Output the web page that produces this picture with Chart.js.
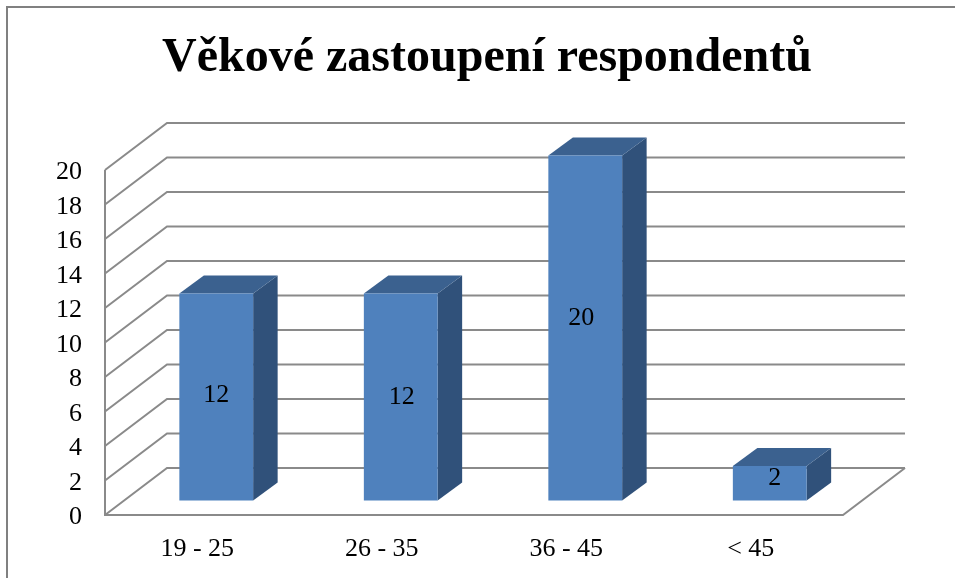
<!DOCTYPE html>
<html>
<head>
<meta charset="utf-8">
<style>
html,body{margin:0;padding:0;background:#fff;overflow:hidden}
#wrap{position:relative;width:955px;height:578px}
canvas{display:block;filter:blur(0.6px)}
</style>
<script src="https://cdn.jsdelivr.net/npm/chart.js@4/dist/chart.umd.min.js"></script>
</head>
<body>
<div id="wrap"><canvas id="c" width="955" height="578"></canvas></div>
<script>
const titleText = 'Věkové zastoupení respondentů';
const categories = ['19 - 25', '26 - 35', '36 - 45', '< 45'];
const respondents = [12, 12, 20, 2];
const yMax = 20;
const yStep = 2;

const FRONT = '#4f81bd', SIDE = '#30517a', TOP = '#3b618f';
const GRID = '#8a8a8a', FRAME = '#808080';
const SERIF = '"Liberation Serif", "Times New Roman", serif';
// projection offsets of the pseudo-3D look
const WALL = {x: 62, y: -47};
const BAR_SHIFT = {x: 19, y: -14.5};
const BAR_DEPTH = {x: 24.5, y: -18};
// hand placement of value labels relative to bar centre
const LABEL_NUDGE = [[0, -2], [1, 0], [-4, -10], [5, -5]];
const Y_TICK_SHIFT = 2.5;

function poly(ctx, pts, fill) {
  ctx.beginPath();
  pts.forEach((p, i) => i ? ctx.lineTo(p[0], p[1]) : ctx.moveTo(p[0], p[1]));
  ctx.closePath();
  ctx.fillStyle = fill;
  ctx.fill();
}

const pseudo3d = {
  id: 'pseudo3d',
  beforeDraw(chart) {
    const {ctx, width, height} = chart;
    ctx.save();
    ctx.fillStyle = '#fff';
    ctx.fillRect(0, 0, width, height);
    // outer frame
    ctx.strokeStyle = FRAME;
    ctx.lineWidth = 2;
    ctx.beginPath();
    ctx.moveTo(7, height);
    ctx.lineTo(7, 7);
    ctx.lineTo(width, 7);
    ctx.stroke();
    ctx.restore();
  },
  beforeDatasetsDraw(chart) {
    const {ctx, chartArea: a, scales: {y}} = chart;
    ctx.save();
    ctx.strokeStyle = GRID;
    ctx.lineWidth = 2;
    y.ticks.forEach(t => {
      const py = y.getPixelForValue(t.value);
      ctx.beginPath();
      ctx.moveTo(a.left, py);
      ctx.lineTo(a.left + WALL.x, py + WALL.y);
      ctx.lineTo(a.right + WALL.x, py + WALL.y);
      ctx.stroke();
    });
    const y0 = y.getPixelForValue(0), yT = y.getPixelForValue(yMax);
    ctx.beginPath();
    ctx.moveTo(a.left, yT);
    ctx.lineTo(a.left, y0);
    ctx.lineTo(a.right, y0);
    ctx.lineTo(a.right + WALL.x, y0 + WALL.y);
    ctx.stroke();
    ctx.restore();
  },
  beforeDatasetDraw(chart, args) {
    const {ctx} = chart;
    const meta = chart.getDatasetMeta(args.index);
    ctx.save();
    ctx.translate(BAR_SHIFT.x, BAR_SHIFT.y);
    meta.data.forEach(bar => {
      const {x, y, base, width} = bar.getProps(['x', 'y', 'base', 'width'], true);
      const l = x - width / 2, r = x + width / 2;
      const d = BAR_DEPTH;
      poly(ctx, [[r, y], [r + d.x, y + d.y], [r + d.x, base + d.y], [r, base]], SIDE);
      poly(ctx, [[l, y], [l + d.x, y + d.y], [r + d.x, y + d.y], [r, y]], TOP);
    });
  },
  afterDatasetDraw(chart, args) {
    const {ctx} = chart;
    const meta = chart.getDatasetMeta(args.index);
    ctx.restore();
    ctx.save();
    ctx.fillStyle = '#000';
    ctx.font = '26px ' + SERIF;
    ctx.textAlign = 'center';
    ctx.textBaseline = 'middle';
    meta.data.forEach((bar, i) => {
      const {x, y, base} = bar.getProps(['x', 'y', 'base'], true);
      ctx.fillText(String(respondents[i]),
        x + BAR_SHIFT.x + LABEL_NUDGE[i][0],
        (y + base) / 2 + BAR_SHIFT.y + LABEL_NUDGE[i][1]);
    });
    ctx.restore();
  }
};

new Chart(document.getElementById('c'), {
  type: 'bar',
  plugins: [pseudo3d],
  data: {
    labels: categories,
    datasets: [{
      data: respondents,
      backgroundColor: FRONT,
      borderWidth: 0,
      barPercentage: 0.4,
      categoryPercentage: 1,
      clip: false
    }]
  },
  options: {
    responsive: false,
    animation: false,
    events: [],
    layout: {padding: {left: 19, right: 0, top: 0, bottom: 0}},
    plugins: {
      legend: {display: false},
      tooltip: {enabled: false},
      title: {
        display: true,
        text: titleText,
        color: '#000',
        font: {family: SERIF, size: 48, weight: 'bold', lineHeight: 1},
        padding: {top: 35, bottom: 87}
      }
    },
    scales: {
      x: {
        grid: {display: false},
        border: {display: false},
        afterFit(s) { s.height = 63; },
        ticks: {
          color: '#000',
          font: {family: SERIF, size: 26},
          padding: 11,
          maxRotation: 0
        }
      },
      y: {
        min: 0,
        max: yMax,
        grid: {display: false, drawTicks: false},
        border: {display: false},
        afterFit(s) { s.width = 86; },
        afterUpdate(s) {
          if (s._shifted) return;
          s._shifted = true;
          const drawLabels = s.drawLabels;
          s.drawLabels = function (area) {
            this.ctx.save();
            this.ctx.translate(0, Y_TICK_SHIFT);
            drawLabels.call(this, area);
            this.ctx.restore();
          };
        },
        ticks: {
          stepSize: yStep,
          color: '#000',
          font: {family: SERIF, size: 26},
          padding: 23
        }
      },
      // empty axis that only reserves the room right of the floor
      spacer: {
        position: 'right',
        grid: {display: false},
        border: {display: false},
        ticks: {display: false},
        afterFit(s) { s.width = 112; }
      }
    }
  }
});
</script>
</body>
</html>
